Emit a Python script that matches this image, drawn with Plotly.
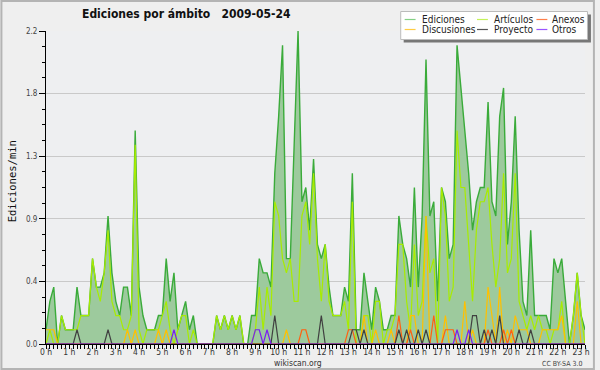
import pandas as pd
import plotly.graph_objects as go

# 10-minute buckets, 24 May 2009 (00:00 .. 23:10)
times = pd.date_range("2009-05-24 00:00", periods=140, freq="10min")

ediciones = [
    0.1, 0.3, 0.4, 0.0, 0.2, 0.1, 0.1, 0.1, 0.4, 0.2,
    0.2, 0.2, 0.6, 0.4, 0.4, 0.5, 0.9, 0.5, 0.3, 0.2,
    0.4, 0.4, 0.2, 1.5, 0.4, 0.2, 0.1, 0.1, 0.1, 0.2,
    0.2, 0.6, 0.3, 0.5, 0.1, 0.2, 0.3, 0.1, 0.2, 0.0,
    0.0, 0.0, 0.0, 0.0, 0.2, 0.1, 0.2, 0.1, 0.2, 0.1,
    0.2, 0.0, 0.0, 0.2, 0.2, 0.6, 0.5, 0.5, 0.4, 1.2,
    1.6, 2.1, 0.6, 0.6, 1.4, 2.2, 1.0, 1.1, 0.8, 1.3,
    0.7, 0.6, 0.7, 0.4, 0.2, 0.2, 0.2, 0.4, 0.3, 1.2,
    0.1, 0.1, 0.5, 0.3, 0.1, 0.4, 0.3, 0.1, 0.1, 0.2,
    0.2, 0.9, 0.7, 0.6, 0.4, 1.1, 0.4, 0.9, 2.0, 0.9,
    1.0, 0.3, 1.1, 1.0, 0.6, 0.7, 2.1, 1.8, 1.5, 1.2,
    0.8, 1.0, 1.1, 1.1, 1.7, 1.0, 0.9, 1.6, 1.8, 0.7,
    1.0, 1.6, 0.8, 0.3, 0.2, 0.8, 0.2, 0.2, 0.2, 0.2,
    0.1, 0.6, 0.5, 0.6, 0.3, 0.0, 0.2, 0.5, 0.2, 0.1,
]

articulos = [
    0.0, 0.1, 0.0, 0.0, 0.2, 0.1, 0.1, 0.1, 0.1, 0.2,
    0.2, 0.2, 0.6, 0.4, 0.3, 0.5, 0.8, 0.3, 0.2, 0.2,
    0.1, 0.1, 0.2, 1.4, 0.1, 0.0, 0.1, 0.1, 0.1, 0.1,
    0.2, 0.3, 0.1, 0.0, 0.1, 0.2, 0.2, 0.0, 0.1, 0.0,
    0.0, 0.0, 0.0, 0.0, 0.2, 0.1, 0.2, 0.1, 0.2, 0.1,
    0.2, 0.0, 0.0, 0.0, 0.1, 0.4, 0.1, 0.4, 0.2, 1.0,
    0.9, 0.6, 0.5, 0.6, 0.3, 0.3, 0.9, 1.0, 0.7, 1.2,
    0.6, 0.3, 0.7, 0.3, 0.2, 0.2, 0.2, 0.3, 0.1, 1.0,
    0.0, 0.0, 0.2, 0.2, 0.0, 0.3, 0.3, 0.0, 0.1, 0.1,
    0.2, 0.7, 0.7, 0.3, 0.1, 0.7, 0.2, 0.3, 0.9, 0.5,
    0.6, 0.0, 1.1, 0.9, 0.3, 0.4, 1.5, 1.1, 1.1, 0.7,
    0.3, 0.8, 1.0, 1.0, 1.1, 0.7, 0.4, 0.6, 1.2, 0.5,
    0.6, 1.2, 0.3, 0.2, 0.1, 0.2, 0.1, 0.2, 0.1, 0.1,
    0.0, 0.1, 0.1, 0.3, 0.0, 0.0, 0.2, 0.5, 0.2, 0.0,
]

discusiones = [
    0.1, 0.1, 0.1, 0, 0, 0, 0, 0, 0, 0,
    0, 0, 0, 0, 0, 0, 0, 0, 0, 0,
    0, 0.1, 0, 0.1, 0, 0, 0, 0, 0, 0.1,
    0, 0.1, 0, 0, 0, 0, 0, 0, 0, 0,
    0, 0, 0, 0, 0, 0, 0, 0, 0, 0,
    0, 0, 0, 0, 0, 0, 0, 0, 0, 0,
    0, 0, 0.1, 0, 0, 0, 0, 0, 0, 0,
    0, 0, 0, 0, 0, 0, 0, 0, 0, 0,
    0, 0, 0.2, 0, 0, 0.1, 0, 0, 0, 0.1,
    0, 0, 0, 0, 0.2, 0.2, 0, 0, 0.9, 0,
    0, 0, 0, 0.2, 0, 0, 0, 0, 0.3, 0,
    0.1, 0, 0, 0, 0.4, 0.2, 0, 0.4, 0, 0.1,
    0, 0.2, 0.1, 0.1, 0.1, 0, 0, 0, 0.1, 0.1,
    0.1, 0.1, 0.1, 0.2, 0, 0, 0, 0.3, 0, 0,
]

anexos = [
    0, 0, 0, 0, 0, 0, 0, 0, 0, 0,
    0, 0, 0, 0, 0, 0, 0, 0, 0, 0,
    0, 0, 0, 0, 0, 0, 0, 0, 0, 0,
    0, 0, 0, 0, 0, 0, 0, 0, 0, 0,
    0, 0, 0, 0, 0, 0, 0, 0, 0, 0,
    0, 0, 0, 0, 0, 0, 0, 0, 0, 0,
    0, 0, 0, 0, 0, 0, 0.1, 0.1, 0, 0,
    0, 0, 0, 0, 0, 0, 0, 0, 0.1, 0.1,
    0, 0, 0, 0, 0, 0, 0, 0, 0, 0,
    0, 0.2, 0, 0, 0.1, 0, 0, 0, 0, 0,
    0.2, 0, 0, 0.1, 0.1, 0.1, 0, 0, 0, 0,
    0, 0, 0, 0, 0.1, 0, 0, 0, 0.1, 0,
    0.1, 0, 0, 0, 0, 0, 0, 0, 0, 0,
    0, 0, 0, 0, 0, 0, 0, 0, 0, 0,
]

proyecto = [
    0, 0, 0, 0, 0, 0, 0, 0, 0.1, 0,
    0, 0, 0, 0, 0, 0, 0.1, 0, 0, 0,
    0, 0, 0, 0, 0, 0, 0, 0, 0, 0,
    0, 0, 0, 0, 0, 0, 0, 0, 0, 0,
    0, 0, 0, 0, 0, 0, 0, 0, 0, 0,
    0, 0, 0, 0, 0, 0, 0, 0, 0, 0.2,
    0, 0, 0, 0, 0, 0, 0, 0, 0, 0,
    0, 0.2, 0, 0, 0, 0, 0, 0, 0, 0.1,
    0.1, 0, 0.1, 0, 0, 0, 0, 0, 0, 0,
    0, 0.1, 0, 0.1, 0, 0, 0.1, 0, 0.1, 0,
    0, 0, 0, 0, 0, 0, 0, 0, 0, 0,
    0.2, 0.2, 0, 0.1, 0, 0.1, 0, 0.2, 0, 0,
    0, 0, 0.1, 0, 0, 0.1, 0, 0, 0, 0,
    0, 0, 0, 0, 0, 0, 0, 0, 0, 0,
]

otros = [
    0, 0, 0, 0, 0, 0, 0, 0, 0, 0,
    0, 0, 0, 0, 0, 0, 0, 0, 0, 0,
    0, 0, 0, 0, 0, 0, 0, 0, 0, 0,
    0, 0, 0, 0.1, 0, 0, 0, 0, 0, 0,
    0, 0, 0, 0, 0, 0, 0, 0, 0, 0,
    0, 0, 0, 0, 0.1, 0.1, 0, 0.1, 0, 0,
    0, 0, 0, 0, 0, 0, 0, 0, 0, 0,
    0, 0, 0, 0, 0, 0, 0, 0, 0, 0,
    0, 0, 0, 0, 0, 0, 0, 0, 0, 0,
    0, 0, 0, 0, 0, 0, 0, 0, 0, 0,
    0, 0, 0, 0, 0, 0, 0.1, 0, 0, 0.1,
    0, 0, 0, 0, 0, 0, 0, 0, 0, 0,
    0, 0, 0, 0, 0, 0, 0, 0, 0, 0,
    0, 0, 0, 0, 0, 0, 0, 0, 0, 0,
]

TITLE = "Ediciones por ámbito\u00a0\u00a0\u00a02009-05-24"
Y_TITLE = "Ediciones/min"

# ---------------------------------------------------------------- styling
W, H = 600, 370
L, R, T, B = 46, 10, 31, 26
FONT = "DejaVu Sans Condensed, DejaVu Sans, sans-serif"


def px(x):
    return (x - L) / (W - L - R)


def py(y):
    return (H - B - y) / (H - T - B)


series = [
    ("Artículos", articulos, "#a8ec00", "#c4f25a"),
    ("Discusiones", discusiones, "#ffc000", "#ffcc44"),
    ("Anexos", anexos, "#ff6010", "#ff7f4a"),
    ("Proyecto", proyecto, "#404040", "#555555"),
    ("Otros", otros, "#7a20f0", "#9a55ff"),
]

fig = go.Figure()
fig.add_trace(go.Scatter(
    x=times, y=ediciones, name="Ediciones", mode="lines",
    line=dict(color="#3aab3a", width=1.4),
    fill="tozeroy", fillcolor="#9dca9d", hoverinfo="skip",
))
for name, vals, color, _ in series:
    fig.add_trace(go.Scatter(
        x=times, y=vals, name=name, mode="lines",
        line=dict(color=color, width=1.2), hoverinfo="skip",
    ))

fig.update_layout(
    width=W, height=H,
    margin=dict(l=L, r=R, t=T, b=B),
    paper_bgcolor="#efefef",
    plot_bgcolor="#eeeff1",
    showlegend=False,
    font=dict(family=FONT, size=9, color="#333"),
    xaxis=dict(
        type="date",
        range=[times[0], times[-1]],
        tick0=times[0], dtick=3600000, tickformat="%-H h",
        ticks="outside", ticklen=4, tickwidth=1, tickcolor="black",
        showline=True, linecolor="black", linewidth=1,
        showgrid=False, zeroline=False,
        minor=dict(dtick=600000, ticks="outside", ticklen=4,
                   tickcolor="black", showgrid=False),
        tickfont=dict(family=FONT, size=8.5, color="#333"),
        ticklabelstandoff=-4,
    ),
    yaxis=dict(
        range=[0, 2.2], tick0=0, dtick=0.44, tickformat=".1f",
        ticks="outside", ticklen=6, tickwidth=1, tickcolor="black",
        showline=True, linecolor="black", linewidth=1,
        showgrid=True, gridcolor="#c9c9c9", gridwidth=1, zeroline=False,
        minor=dict(dtick=0.11, ticks="outside", ticklen=3,
                   tickcolor="black", showgrid=False),
        tickfont=dict(family=FONT, size=8, color="#444"),
    ),
)

shapes = []
annotations = []

# outer frame
shapes.append(dict(type="rect", xref="paper", yref="paper",
                   x0=px(1), x1=px(599), y0=py(1), y1=py(369),
                   line=dict(color="#b4b4b4", width=2), layer="below"))

# legend box with shadow
shapes.append(dict(type="rect", xref="paper", yref="paper",
                   x0=px(407), x1=px(596), y0=py(14.5), y1=py(42.5),
                   fillcolor="#777777", line=dict(width=0), layer="above"))
shapes.append(dict(type="rect", xref="paper", yref="paper",
                   x0=px(404), x1=px(592.5), y0=py(11.5), y1=py(39.5),
                   fillcolor="white", line=dict(color="#bbbbbb", width=1),
                   layer="above"))

legend_items = [("Ediciones", "#85d085")] + [(n, c) for n, _, _, c in series]
legend_order = ["Ediciones", "Artículos", "Anexos", "Discusiones", "Proyecto", "Otros"]
col_line_x = [(408, 419), (481, 492), (541, 552)]
col_text_x = [423, 496, 555]
row_y = [19.5, 29.5]
colors = dict(legend_items)
for k, name in enumerate(legend_order):
    row, col = divmod(k, 3)
    y = row_y[row]
    x0, x1 = col_line_x[col]
    shapes.append(dict(type="line", xref="paper", yref="paper",
                       x0=px(x0), x1=px(x1), y0=py(y), y1=py(y),
                       line=dict(color=colors[name], width=1.2), layer="above"))
    annotations.append(dict(text=name, xref="paper", yref="paper",
                            x=px(col_text_x[col]), y=py(y), xanchor="left",
                            yanchor="middle", showarrow=False,
                            font=dict(family=FONT, size=10, color="#222")))

annotations += [
    dict(text="<b>%s</b>" % TITLE, xref="paper", yref="paper",
         x=px(188), y=py(14), xanchor="center", yanchor="middle",
         showarrow=False, font=dict(family=FONT, size=12, color="#111")),
    dict(text=Y_TITLE, xref="paper", yref="paper", x=px(12), y=py(181),
         xanchor="center", yanchor="middle", textangle=-90, showarrow=False,
         font=dict(family="DejaVu Sans Mono, monospace", size=10.5, color="#111")),
    dict(text="wikiscan.org", xref="paper", yref="paper", x=px(300), y=py(363),
         xanchor="center", yanchor="middle", showarrow=False,
         font=dict(family=FONT, size=8.5, color="#333")),
    dict(text="CC BY-SA 3.0", xref="paper", yref="paper", x=px(589), y=py(364),
         xanchor="right", yanchor="middle", showarrow=False,
         font=dict(family=FONT, size=7, color="#444")),
]

fig.update_layout(shapes=shapes, annotations=annotations)
fig.write_html("out.html",
               config={"displayModeBar": False, "staticPlot": True},
               post_script="document.body.style.margin='0px';")
